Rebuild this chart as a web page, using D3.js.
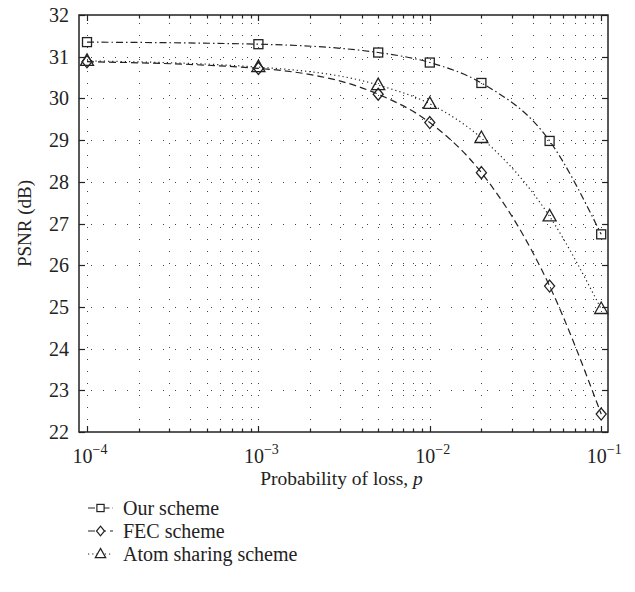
<!DOCTYPE html>
<html>
<head>
<meta charset="utf-8">
<script src="https://cdn.jsdelivr.net/npm/d3@7"></script>
<style>
  body { margin: 0; background: #fff; }
  svg text { font-family: "Liberation Serif", "DejaVu Serif", serif; fill: #222; }
</style>
</head>
<body>
<div id="chart"></div>
<script>
// data
const lossProb = [1e-4, 1e-3, 5e-3, 1e-2, 2e-2, 5e-2, 1e-1];
const ourScheme = [31.35, 31.3, 31.1, 30.86, 30.37, 28.98, 26.74];
const fecScheme = [30.88, 30.72, 30.1, 29.42, 28.22, 25.5, 22.43];
const atomScheme = [30.9, 30.75, 30.32, 29.87, 29.05, 27.17, 24.95];
const seriesNames = ["Our scheme", "FEC scheme", "Atom sharing scheme"];
const yTicks = [22, 23, 24, 25, 26, 27, 28, 29, 30, 31, 32];
const xDecades = [-4, -3, -2, -1];

const width = 635, height = 592;
const margin = {left: 79, right: 27, top: 15, bottom: 160};

const svg = d3.select("#chart").append("svg")
  .attr("width", width)
  .attr("height", height);

const pad = 0.0467;
const x = d3.scaleLog()
  .domain([Math.pow(10, -4 - pad), Math.pow(10, -1 + pad * 0.85)])
  .range([margin.left, width - margin.right]);
const y = d3.scaleLinear()
  .domain([22, 32])
  .range([height - margin.bottom, margin.top]);

const x0 = margin.left, x1 = width - margin.right;
const y0 = height - margin.bottom, y1 = margin.top;

// minor tick positions for log axis
const xMinor = [];
xDecades.forEach(e => {
  for (let k = 1; k <= 9; k++) {
    const v = k * Math.pow(10, e);
    if (v <= 1e-1 + 1e-12) xMinor.push(v);
  }
});

// grid
const grid = svg.append("g").attr("stroke", "#444").attr("stroke-width", 1)
  .attr("stroke-dasharray", "1,11");
grid.selectAll(".vg").data(xMinor).enter().append("line")
  .attr("x1", d => Math.round(x(d)) + 0.5).attr("x2", d => Math.round(x(d)) + 0.5)
  .attr("y1", y0).attr("y2", y1);
grid.selectAll(".hg").data(yTicks.slice(1, -1)).enter().append("line")
  .attr("x1", x0).attr("x2", x1)
  .attr("y1", d => Math.round(y(d)) + 0.5).attr("y2", d => Math.round(y(d)) + 0.5);

// frame
svg.append("rect")
  .attr("x", x0).attr("y", y1)
  .attr("width", x1 - x0).attr("height", y0 - y1)
  .attr("fill", "none").attr("stroke", "#222").attr("stroke-width", 1.5);

// ticks (inside, on all four sides)
const ticks = svg.append("g").attr("stroke", "#222").attr("stroke-width", 1.2);
xMinor.forEach(v => {
  const major = xDecades.some(e => Math.abs(v - Math.pow(10, e)) < 1e-12);
  const len = major ? 6 : 3.5;
  const px = Math.round(x(v)) + 0.5;
  ticks.append("line").attr("x1", px).attr("x2", px).attr("y1", y0).attr("y2", y0 - len);
  ticks.append("line").attr("x1", px).attr("x2", px).attr("y1", y1).attr("y2", y1 + len);
});
yTicks.forEach(v => {
  const py = Math.round(y(v)) + 0.5;
  ticks.append("line").attr("x1", x0).attr("x2", x0 + 6).attr("y1", py).attr("y2", py);
  ticks.append("line").attr("x1", x1).attr("x2", x1 - 6).attr("y1", py).attr("y2", py);
});

// tick labels
svg.append("g").selectAll("text").data(yTicks).enter().append("text")
  .attr("x", x0 - 10).attr("y", d => y(d) + 7)
  .attr("text-anchor", "end")
  .attr("font-size", 20)
  .text(d => d);

const xl = svg.append("g").selectAll("text").data(xDecades).enter().append("text")
  .attr("x", d => x(Math.pow(10, d)) + 3).attr("y", y0 + 31)
  .attr("text-anchor", "middle")
  .attr("font-size", 20);
xl.append("tspan").text("10");
xl.append("tspan").attr("dy", -9).attr("font-size", 14).text(d => "\u2212" + Math.abs(d));

// axis titles
svg.append("text")
  .attr("transform", `translate(31,${(y0 + y1) / 2}) rotate(-90)`)
  .attr("text-anchor", "middle").attr("font-size", 19)
  .text("PSNR (dB)");
const xt = svg.append("text")
  .attr("x", (x0 + x1) / 2 - 2).attr("y", y0 + 53)
  .attr("text-anchor", "middle").attr("font-size", 19.5);
xt.append("tspan").text("Probability of loss, ");
xt.append("tspan").attr("font-style", "italic").text("p");

// series
const series = [
  {name: seriesNames[0], values: ourScheme, dash: "7,3,1.5,3", marker: "square"},
  {name: seriesNames[1], values: fecScheme, dash: "7,4", marker: "diamond"},
  {name: seriesNames[2], values: atomScheme, dash: "1.2,3", marker: "triangle"}
];

const line = d3.line()
  .x(d => x(d[0])).y(d => y(d[1]))
  .curve(d3.curveMonotoneX);

function drawMarker(g, type, cx, cy, s = 1) {
  if (type === "square") {
    g.append("rect").attr("x", cx - 4.5 * s).attr("y", cy - 4.5 * s).attr("width", 9 * s).attr("height", 9 * s);
  } else if (type === "diamond") {
    g.append("path").attr("d", `M${cx},${cy - 6 * s}L${cx + 5 * s},${cy}L${cx},${cy + 6 * s}L${cx - 5 * s},${cy}Z`);
  } else {
    g.append("path").attr("d", `M${cx},${cy - 7 * s}L${cx + 6.5 * s},${cy + 4.5 * s}L${cx - 6.5 * s},${cy + 4.5 * s}Z`);
  }
}

series.forEach(s => {
  const pts = lossProb.map((p, i) => [p, s.values[i]]);
  svg.append("path")
    .attr("d", line(pts))
    .attr("fill", "none").attr("stroke", "#222").attr("stroke-width", 1.2)
    .attr("stroke-dasharray", s.dash);
  const mg = svg.append("g").attr("fill", "none").attr("stroke", "#222").attr("stroke-width", 1.3);
  pts.forEach(p => drawMarker(mg, s.marker, x(p[0]), y(p[1])));
});

// legend
const legend = svg.append("g");
series.forEach((s, i) => {
  const ly = 508 + i * 23;
  legend.append("line")
    .attr("x1", 88).attr("x2", 113).attr("y1", ly).attr("y2", ly)
    .attr("stroke", "#222").attr("stroke-width", 1.2).attr("stroke-dasharray", s.dash);
  const mg = legend.append("g").attr("fill", "#fff").attr("stroke", "#222").attr("stroke-width", 1.2);
  drawMarker(mg, s.marker, 100.5, ly, 0.8);
  legend.append("text").attr("x", 123).attr("y", ly + 6.5)
    .attr("font-size", 20).text(s.name);
});
</script>
</body>
</html>
